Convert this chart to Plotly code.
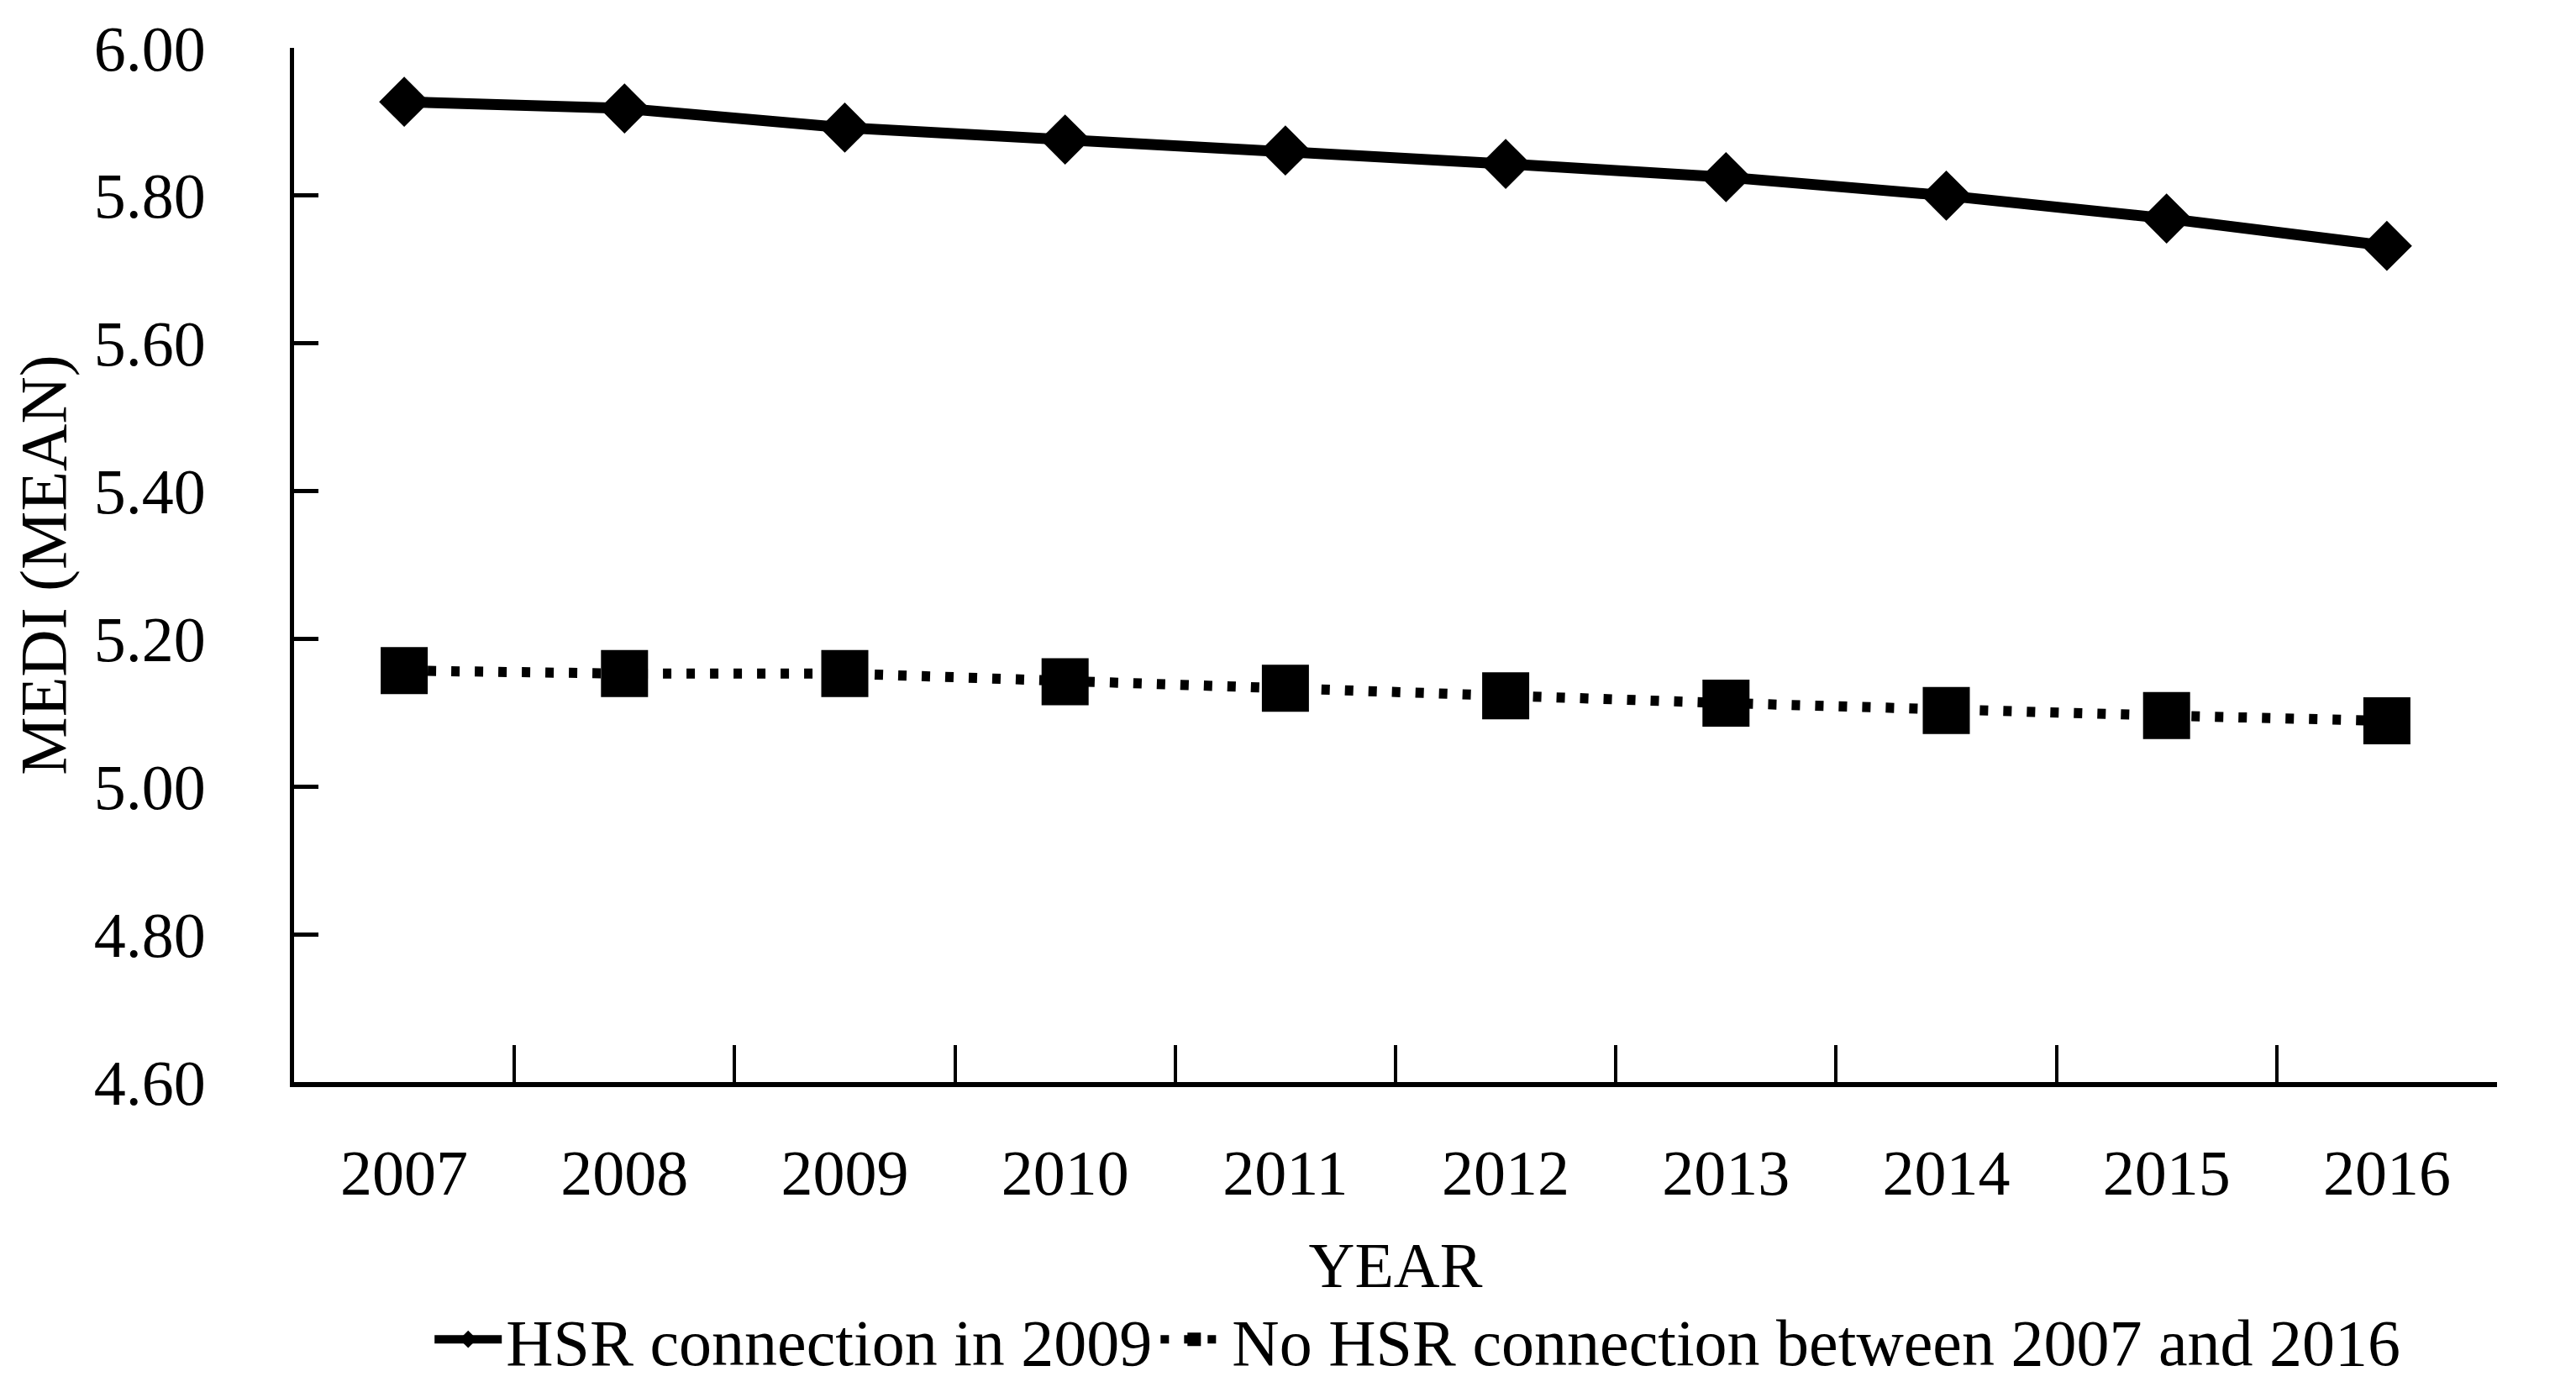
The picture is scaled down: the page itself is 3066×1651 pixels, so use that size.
import plotly.graph_objects as go

years = ["2007", "2008", "2009", "2010", "2011", "2012", "2013", "2014", "2015", "2016"]
hsr_2009 = [5.927, 5.918, 5.892, 5.876, 5.861, 5.843, 5.825, 5.800, 5.769, 5.732]
no_hsr = [5.157, 5.153, 5.153, 5.142, 5.133, 5.123, 5.113, 5.103, 5.096, 5.089]
y_ticks = [4.6, 4.8, 5.0, 5.2, 5.4, 5.6, 5.8, 6.0]

FONT = "Liberation Serif, Times New Roman, serif"

fig = go.Figure()
fig.add_trace(go.Scatter(
    x=years, y=hsr_2009, mode="lines+markers", name="HSR connection in 2009",
    line=dict(color="black", width=13),
    marker=dict(symbol="diamond", size=46, color="black"),
))
fig.add_trace(go.Scatter(
    x=years, y=no_hsr, mode="lines+markers", name="No HSR connection between 2007 and 2016",
    line=dict(color="black", width=12, dash="10px,18px"),
    marker=dict(symbol="square", size=56, color="black"),
))

fig.update_layout(
    width=3066, height=1651,
    paper_bgcolor="white", plot_bgcolor="white",
    margin=dict(l=342, r=102, t=49, b=371, autoexpand=False),
    font=dict(family=FONT, color="black", size=76),
    showlegend=True,
    legend=dict(
        orientation="h", x=0.51, xanchor="center", y=-0.249, yanchor="middle",
        font=dict(family=FONT, size=78, color="black"),
        itemwidth=80, tracegroupgap=0, bgcolor="rgba(0,0,0,0)",
    ),
)
fig.update_xaxes(
    type="category", tickson="boundaries", range=[-0.5, 9.5],
    showline=True, linecolor="black", linewidth=6,
    ticks="inside", ticklen=44, tickwidth=4, tickcolor="black",
    showgrid=False, zeroline=False, automargin=False,
    tickfont=dict(family=FONT, size=76, color="black"),
    ticklabelstandoff=37,
    title=dict(text="YEAR", font=dict(family=FONT, size=76, color="black"), standoff=44),
)
fig.update_yaxes(
    range=[4.6, 6.0], tickvals=y_ticks, tickformat=".2f",
    showline=True, linecolor="black", linewidth=5,
    ticks="inside", ticklen=29, tickwidth=5, tickcolor="black",
    showgrid=False, zeroline=False, automargin=False,
    tickfont=dict(family=FONT, size=76, color="black"),
    ticklabelstandoff=85,
    title=dict(text="MEDI (MEAN)", font=dict(family=FONT, size=78, color="black"), standoff=38),
)

fig.write_html("out.html")
